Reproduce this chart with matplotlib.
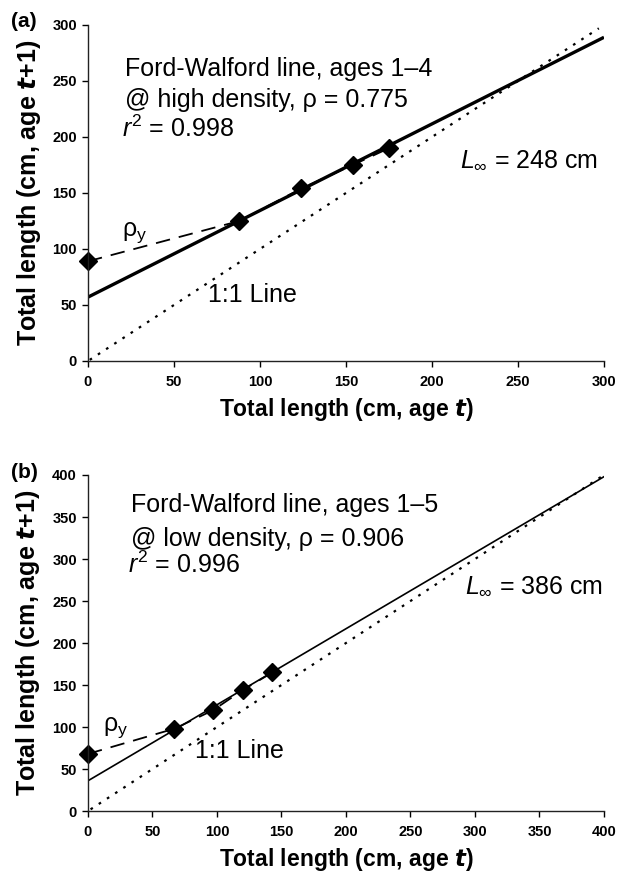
import numpy as np
import matplotlib.pyplot as plt

plt.rcParams['font.family'] = ['Liberation Sans', 'DejaVu Sans']
plt.rcParams['mathtext.fontset'] = 'custom'
plt.rcParams['mathtext.it'] = 'Liberation Sans:italic'
plt.rcParams['mathtext.bf'] = 'Liberation Sans:bold:italic'
plt.rcParams['mathtext.rm'] = 'Liberation Sans'

# panel (a): high density, ages 1-4
a_lt = [0, 88, 124, 154, 175]
a_lt1 = [89, 125, 154, 175, 190]
a_fit_x = [0, 300]
a_fit_y = [57, 289]
a_one_x = [1, 297]
a_one_y = [1, 297]

# panel (b): low density, ages 1-5
b_lt = [0, 67, 97, 120, 143]
b_lt1 = [68, 98, 120, 144, 165]
b_fit_x = [0, 400]
b_fit_y = [36, 398]
b_one_x = [2, 398]
b_one_y = [2, 398]

a_ticks = [0, 50, 100, 150, 200, 250, 300]
b_ticks = [0, 50, 100, 150, 200, 250, 300, 350, 400]

fig = plt.figure(figsize=(6.17, 8.73), dpi=100)
ax_a = fig.add_axes([0.1426, 0.5865, 0.8363, 0.3849])
ax_b = fig.add_axes([0.1426, 0.0710, 0.8363, 0.3849])


def style(ax, ticks):
    ax.set_xlim(ticks[0], ticks[-1])
    ax.set_ylim(ticks[0], ticks[-1])
    ax.set_xticks(ticks)
    ax.set_yticks(ticks)
    for s in ("top", "right"):
        ax.spines[s].set_visible(False)
    for s in ("left", "bottom"):
        ax.spines[s].set_linewidth(1.0)
        ax.spines[s].set_color("#222222")
    ax.tick_params(direction="out", length=4, width=1.0, labelsize=10.5)
    ax.tick_params(axis="x", pad=6)
    ax.tick_params(axis="y", pad=4)
    for lab in ax.get_xticklabels() + ax.get_yticklabels():
        lab.set_fontweight("bold")
    ax.set_xlabel(r"Total length (cm, age $\boldsymbol{t}$)", fontsize=16.5,
                  fontweight="bold", labelpad=5)
    ax.set_ylabel(r"Total length (cm, age $\boldsymbol{t}$+1)", fontsize=18,
                  fontweight="bold", labelpad=7)


fs = 18

# (a)
ax = ax_a
ax.plot(a_one_x, a_one_y, color="black", lw=1.6, linestyle=(0, (1.2, 3.2)))
ax.plot(a_fit_x, a_fit_y, color="black", lw=2.4, solid_capstyle="butt")
ax.plot(a_lt, a_lt1, color="black", lw=1.3, linestyle=(0, (8, 5)),
        marker="D", ms=9, clip_on=False)
style(ax, a_ticks)
ax.text(21.5, 254, "Ford-Walford line, ages 1\u20134", fontsize=fs)
ax.text(21.5, 227, "@ high density, \u03c1 = 0.775", fontsize=fs)
ax.text(20, 200, r"$r^2$ = 0.998", fontsize=fs)
ax.text(216, 173, r"$L_\infty$ = 248 cm", fontsize=fs)
ax.text(20, 112, "\u03c1" + r"$_\mathrm{y}$", fontsize=fs)
ax.text(70, 53, "1:1 Line", fontsize=fs)
fig.text(0.018, 0.975, "(a)", fontsize=15, fontweight="bold", va="center")

# (b)
ax = ax_b
ax.plot(b_one_x, b_one_y, color="black", lw=1.6, linestyle=(0, (1.2, 3.2)))
ax.plot(b_fit_x, b_fit_y, color="black", lw=1.2)
ax.plot(b_lt, b_lt1, color="black", lw=1.3, linestyle=(0, (8, 5)),
        marker="D", ms=9, clip_on=False)
style(ax, b_ticks)
ax.text(33, 356, "Ford-Walford line, ages 1\u20135", fontsize=fs)
ax.text(33, 316, "@ low density, \u03c1 = 0.906", fontsize=fs)
ax.text(31, 283, r"$r^2$ = 0.996", fontsize=fs)
ax.text(292, 260, r"$L_\infty$ = 386 cm", fontsize=fs)
ax.text(12, 96, "\u03c1" + r"$_\mathrm{y}$", fontsize=fs)
ax.text(83, 63, "1:1 Line", fontsize=fs)
fig.text(0.018, 0.4593, "(b)", fontsize=15, fontweight="bold", va="center")

fig.savefig("out.png", dpi=100)
